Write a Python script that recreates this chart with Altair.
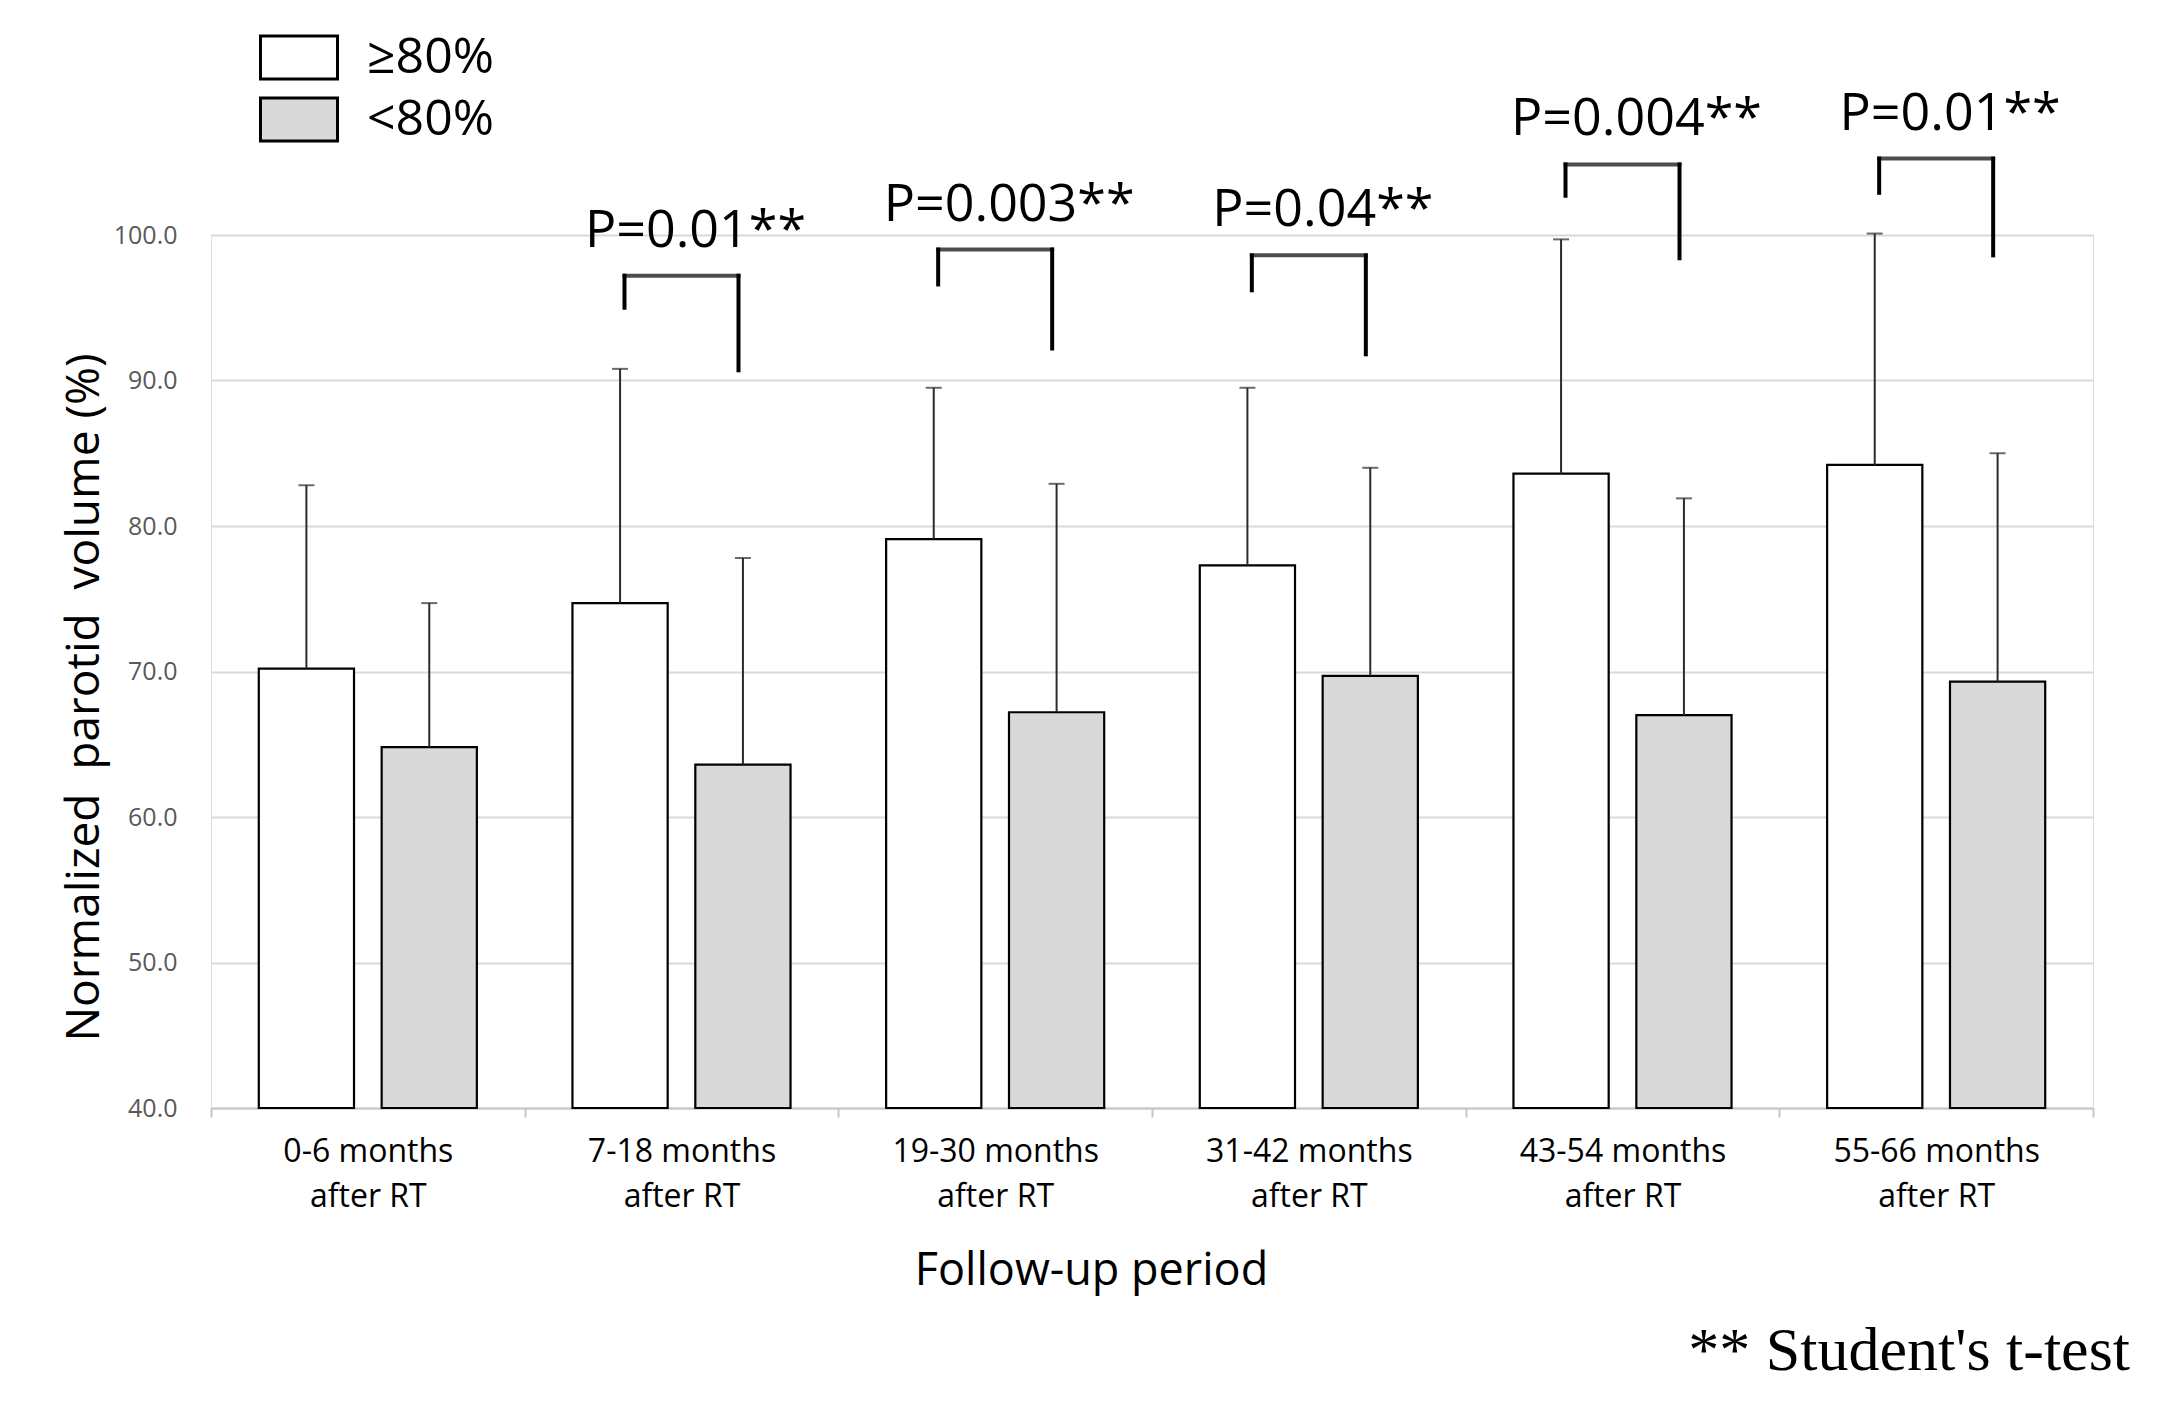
import altair as alt
import pandas as pd

# ---- data ----
periods = ["0-6 months|after RT", "7-18 months|after RT", "19-30 months|after RT",
           "31-42 months|after RT", "43-54 months|after RT", "55-66 months|after RT"]
groups = ["\u226580%", "<80%"]
high_mean = [70.2, 74.7, 79.1, 77.3, 83.6, 84.2]
high_upper = [82.8, 90.8, 89.5, 89.5, 99.7, 100.1]
low_mean = [64.8, 63.6, 67.2, 69.7, 67.0, 69.3]
low_upper = [74.7, 77.8, 82.9, 84.0, 81.9, 85.0]

p_periods = periods[1:]
p_labels = ["P=0.01**", "P=0.003**", "P=0.04**", "P=0.004**", "P=0.01**"]
bracket_top = [97.2, 99.0, 98.6, 104.85, 105.25]
bracket_left_end = [95.0, 96.6, 96.2, 102.7, 102.9]
bracket_right_end = [90.7, 92.2, 91.8, 98.4, 98.6]

y_ticks = [40, 50, 60, 70, 80, 90, 100]

bars_df = pd.DataFrame({
    "period": periods * 2,
    "group": [groups[0]] * len(periods) + [groups[1]] * len(periods),
    "mean": high_mean + low_mean,
    "upper": high_upper + low_upper,
})
br_df = pd.DataFrame({
    "period": p_periods,
    "label": p_labels,
    "top": bracket_top,
    "left_end": bracket_left_end,
    "right_end": bracket_right_end,
})

FONT = "Open Sans"

x_axis = alt.Axis(
    labelExpr="split(datum.label, '|')", labelAngle=0, labelFont=FONT, labelFontSize=32,
    labelColor="black", labelLineHeight=45, labelPadding=19, labelLimit=0,
    tickBand="extent", ticks=True, tickSize=9, tickColor="#c6c6c6", tickWidth=2,
    domainColor="#c6c6c6", domainWidth=2, grid=False,
    titleFont=FONT, titleFontSize=45, titleFontWeight="normal", titleColor="black",
    titlePadding=36, titleX=880,
)
x_enc = alt.X("period:N", sort=periods,
              scale=alt.Scale(domain=periods, paddingInner=0, paddingOuter=0),
              axis=x_axis, title="Follow-up period")
xo_enc = alt.XOffset("group:N", sort=groups,
                     scale=alt.Scale(domain=groups, paddingInner=0.225, paddingOuter=0.389))

y_scale = alt.Scale(domain=[40, 100], nice=False, zero=False)
y_axis = alt.Axis(
    values=y_ticks, format=".1f", labelFont=FONT, labelFontSize=25, labelColor="#595959",
    labelPadding=34, ticks=False, domain=False, grid=True, gridColor="#d9d9d9", gridWidth=2,
    titleFont=FONT, titleFontSize=46, titleFontWeight="normal", titleColor="black",
    titlePadding=5, titleY=462,
)
y_title = "Normalized\u00a0 parotid\u00a0 volume (%)"


def Y(field):
    return alt.Y(field, scale=y_scale, axis=y_axis, title=y_title)


base = alt.Chart(bars_df)

bars = base.mark_bar(stroke="black", strokeWidth=2.2).encode(
    x=x_enc,
    xOffset=xo_enc,
    y=Y("mean:Q"),
    y2=alt.datum(40),
    fill=alt.Fill(
        "group:N",
        scale=alt.Scale(domain=groups, range=["white", "#d9d9d9"]),
        legend=alt.Legend(
            title=None, orient="none", legendX=53.5, legendY=-212, direction="vertical",
            symbolType="M-1.1667,-0.6515H1.1667V0.6515H-1.1667Z", symbolSize=4356,
            symbolStrokeColor="black", symbolStrokeWidth=3, symbolOpacity=1,
            labelFont=FONT, labelFontSize=50, labelColor="black", labelOffset=33.5,
            rowPadding=0, padding=0, labelLimit=0,
        ),
    ),
)

err = base.mark_rule(color="#2b2b2b", strokeWidth=2).encode(
    x=x_enc, xOffset=xo_enc, y=Y("mean:Q"), y2="upper:Q"
)
caps = base.mark_tick(color="#2b2b2b", thickness=2, size=16, orient="horizontal").encode(
    x=x_enc, xOffset=xo_enc, y=Y("upper:Q")
)

bbase = alt.Chart(br_df)
b_h = bbase.mark_tick(color="black", thickness=4, size=118, orient="horizontal").encode(
    x=x_enc, y=Y("top:Q")
)
b_l = bbase.mark_rule(color="black", strokeWidth=4, xOffset=-57, strokeCap="square").encode(
    x=x_enc, y=Y("left_end:Q"), y2="top:Q"
)
b_r = bbase.mark_rule(color="black", strokeWidth=4, xOffset=57, strokeCap="square").encode(
    x=x_enc, y=Y("right_end:Q"), y2="top:Q"
)
b_t = bbase.mark_text(font=FONT, fontSize=52, dx=14, dy=-29, baseline="alphabetic",
                      align="center", color="black").encode(
    x=x_enc, y=Y("top:Q"), text="label:N"
)

chart = alt.layer(bars, err, caps, b_h, b_l, b_r, b_t).properties(
    width=1882,
    height=873,
    padding={"left": 203, "top": 227, "right": 55, "bottom": 285},
    autosize=alt.AutoSizeParams(type="none"),
    title=alt.TitleParams(
        text="** Student's t-test", orient="bottom", anchor="end", font="Liberation Serif",
        fontSize=62, fontWeight="normal", color="black", dx=36, offset=28,
    ),
).configure_view(stroke=None).configure(background="white")

chart.save("out.html", embed_options={"renderer": "svg", "actions": False})
